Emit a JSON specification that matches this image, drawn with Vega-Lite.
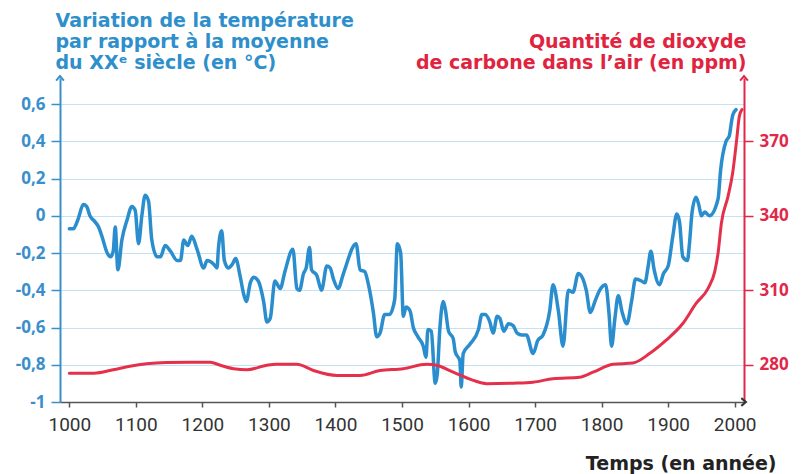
{
  "$schema": "https://vega.github.io/schema/vega-lite/v6.json",
  "width": 684,
  "height": 324,
  "autosize": {"type": "none"},
  "padding": {"left": 60, "top": 78, "right": 66, "bottom": 72},
  "background": "white",
  "config": {"view": {"stroke": null}, "font": "Open Sans"},
  "datasets": {
    "temp": [
      {"year": 1000, "t": -0.07}, {"year": 1006, "t": -0.07}, {"year": 1013, "t": -0.02}, {"year": 1021, "t": 0.06},
      {"year": 1026, "t": 0.05}, {"year": 1031, "t": 0.0}, {"year": 1038, "t": -0.03}, {"year": 1044, "t": -0.06},
      {"year": 1049, "t": -0.11}, {"year": 1057, "t": -0.2}, {"year": 1062, "t": -0.22}, {"year": 1066, "t": -0.19},
      {"year": 1069, "t": -0.06}, {"year": 1073, "t": -0.29}, {"year": 1079, "t": -0.13}, {"year": 1087, "t": -0.02},
      {"year": 1094, "t": 0.05}, {"year": 1099, "t": 0.03}, {"year": 1104, "t": -0.15}, {"year": 1109, "t": 0.0},
      {"year": 1114, "t": 0.11}, {"year": 1119, "t": 0.08}, {"year": 1124, "t": -0.13}, {"year": 1132, "t": -0.22},
      {"year": 1137, "t": -0.22}, {"year": 1144, "t": -0.16}, {"year": 1152, "t": -0.19}, {"year": 1162, "t": -0.24},
      {"year": 1167, "t": -0.24}, {"year": 1172, "t": -0.13}, {"year": 1178, "t": -0.16}, {"year": 1184, "t": -0.11},
      {"year": 1192, "t": -0.18}, {"year": 1202, "t": -0.28}, {"year": 1207, "t": -0.24}, {"year": 1217, "t": -0.26},
      {"year": 1222, "t": -0.28}, {"year": 1224, "t": -0.18}, {"year": 1229, "t": -0.08}, {"year": 1233, "t": -0.24},
      {"year": 1239, "t": -0.28}, {"year": 1245, "t": -0.26}, {"year": 1250, "t": -0.23}, {"year": 1257, "t": -0.33},
      {"year": 1262, "t": -0.42}, {"year": 1266, "t": -0.46}, {"year": 1272, "t": -0.36}, {"year": 1277, "t": -0.33},
      {"year": 1284, "t": -0.35}, {"year": 1292, "t": -0.46}, {"year": 1297, "t": -0.57}, {"year": 1302, "t": -0.55},
      {"year": 1309, "t": -0.35}, {"year": 1317, "t": -0.39}, {"year": 1324, "t": -0.3}, {"year": 1336, "t": -0.18},
      {"year": 1342, "t": -0.39}, {"year": 1346, "t": -0.4}, {"year": 1352, "t": -0.31}, {"year": 1356, "t": -0.28},
      {"year": 1361, "t": -0.17}, {"year": 1364, "t": -0.29}, {"year": 1372, "t": -0.32}, {"year": 1379, "t": -0.4},
      {"year": 1387, "t": -0.27}, {"year": 1392, "t": -0.28}, {"year": 1397, "t": -0.34}, {"year": 1404, "t": -0.39},
      {"year": 1412, "t": -0.31}, {"year": 1431, "t": -0.15}, {"year": 1437, "t": -0.29}, {"year": 1444, "t": -0.3},
      {"year": 1449, "t": -0.36}, {"year": 1457, "t": -0.52}, {"year": 1462, "t": -0.65}, {"year": 1467, "t": -0.63},
      {"year": 1474, "t": -0.53}, {"year": 1481, "t": -0.53}, {"year": 1489, "t": -0.45}, {"year": 1493, "t": -0.15},
      {"year": 1498, "t": -0.2}, {"year": 1502, "t": -0.54}, {"year": 1506, "t": -0.49}, {"year": 1512, "t": -0.51},
      {"year": 1517, "t": -0.6}, {"year": 1524, "t": -0.65}, {"year": 1532, "t": -0.7}, {"year": 1536, "t": -0.76},
      {"year": 1539, "t": -0.61}, {"year": 1544, "t": -0.62}, {"year": 1550, "t": -0.9}, {"year": 1553, "t": -0.85},
      {"year": 1557, "t": -0.6}, {"year": 1562, "t": -0.46}, {"year": 1565, "t": -0.5}, {"year": 1570, "t": -0.62},
      {"year": 1577, "t": -0.66}, {"year": 1580, "t": -0.73}, {"year": 1587, "t": -0.78}, {"year": 1589, "t": -0.92},
      {"year": 1592, "t": -0.74}, {"year": 1602, "t": -0.69}, {"year": 1615, "t": -0.61}, {"year": 1620, "t": -0.53},
      {"year": 1625, "t": -0.53}, {"year": 1632, "t": -0.57}, {"year": 1637, "t": -0.63}, {"year": 1643, "t": -0.54},
      {"year": 1647, "t": -0.55}, {"year": 1653, "t": -0.62}, {"year": 1660, "t": -0.58}, {"year": 1667, "t": -0.59},
      {"year": 1673, "t": -0.63}, {"year": 1680, "t": -0.64}, {"year": 1687, "t": -0.64}, {"year": 1697, "t": -0.74},
      {"year": 1704, "t": -0.67}, {"year": 1712, "t": -0.64}, {"year": 1722, "t": -0.51}, {"year": 1727, "t": -0.37},
      {"year": 1735, "t": -0.51}, {"year": 1742, "t": -0.7}, {"year": 1750, "t": -0.4}, {"year": 1757, "t": -0.41},
      {"year": 1765, "t": -0.31}, {"year": 1772, "t": -0.34}, {"year": 1777, "t": -0.4}, {"year": 1783, "t": -0.52},
      {"year": 1790, "t": -0.46}, {"year": 1797, "t": -0.4}, {"year": 1806, "t": -0.37}, {"year": 1811, "t": -0.52},
      {"year": 1815, "t": -0.7}, {"year": 1820, "t": -0.55}, {"year": 1825, "t": -0.43}, {"year": 1831, "t": -0.52},
      {"year": 1838, "t": -0.58}, {"year": 1845, "t": -0.46}, {"year": 1851, "t": -0.34}, {"year": 1860, "t": -0.35},
      {"year": 1865, "t": -0.36}, {"year": 1870, "t": -0.27}, {"year": 1874, "t": -0.19}, {"year": 1879, "t": -0.29},
      {"year": 1887, "t": -0.37}, {"year": 1893, "t": -0.31}, {"year": 1900, "t": -0.27}, {"year": 1907, "t": -0.11},
      {"year": 1913, "t": 0.01}, {"year": 1917, "t": -0.03}, {"year": 1922, "t": -0.22}, {"year": 1929, "t": -0.24},
      {"year": 1932, "t": -0.15}, {"year": 1936, "t": 0.02}, {"year": 1942, "t": 0.1}, {"year": 1946, "t": 0.06},
      {"year": 1950, "t": 0.0}, {"year": 1955, "t": 0.02}, {"year": 1962, "t": 0.0}, {"year": 1975, "t": 0.09},
      {"year": 1979, "t": 0.25}, {"year": 1987, "t": 0.4}, {"year": 1992, "t": 0.43}, {"year": 1995, "t": 0.5},
      {"year": 1997, "t": 0.54}, {"year": 2002, "t": 0.57}
    ],
    "co2": [
      {"year": 1000, "ppm": 276.6}, {"year": 1037, "ppm": 276.6}, {"year": 1066, "ppm": 278.0}, {"year": 1091, "ppm": 279.4},
      {"year": 1116, "ppm": 280.4}, {"year": 1146, "ppm": 280.9}, {"year": 1180, "ppm": 281.0}, {"year": 1212, "ppm": 281.0},
      {"year": 1227, "ppm": 279.8}, {"year": 1247, "ppm": 278.4}, {"year": 1267, "ppm": 278.0}, {"year": 1297, "ppm": 279.8},
      {"year": 1311, "ppm": 280.2}, {"year": 1342, "ppm": 280.2}, {"year": 1367, "ppm": 277.7}, {"year": 1402, "ppm": 275.7},
      {"year": 1437, "ppm": 275.7}, {"year": 1467, "ppm": 277.7}, {"year": 1502, "ppm": 278.4}, {"year": 1537, "ppm": 280.2},
      {"year": 1552, "ppm": 279.8}, {"year": 1577, "ppm": 277.0}, {"year": 1607, "ppm": 273.7}, {"year": 1627, "ppm": 272.4},
      {"year": 1667, "ppm": 272.6}, {"year": 1697, "ppm": 273.0}, {"year": 1727, "ppm": 274.4}, {"year": 1767, "ppm": 275.0},
      {"year": 1787, "ppm": 277.0}, {"year": 1817, "ppm": 280.2}, {"year": 1847, "ppm": 280.7}, {"year": 1872, "ppm": 284.5},
      {"year": 1897, "ppm": 289.9}, {"year": 1922, "ppm": 296.6}, {"year": 1942, "ppm": 304.7}, {"year": 1960, "ppm": 310.8},
      {"year": 1970, "ppm": 317.5}, {"year": 1975, "ppm": 324.9}, {"year": 1980, "ppm": 337.0}, {"year": 1990, "ppm": 347.8},
      {"year": 1997, "ppm": 357.3}, {"year": 2003, "ppm": 370.7}, {"year": 2007, "ppm": 380.1}, {"year": 2011, "ppm": 382.8}
    ]
  },
  "layer": [
    {
      "data": {"name": "temp"},
      "mark": {"type": "line", "color": "#2a8dcd", "strokeWidth": 3.5, "interpolate": "monotone", "strokeCap": "round", "strokeJoin": "round"},
      "encoding": {
        "x": {
          "field": "year", "type": "quantitative",
          "scale": {"domain": [986, 2014], "nice": false, "zero": false},
          "axis": {
            "values": [1000, 1100, 1200, 1300, 1400, 1500, 1600, 1700, 1800, 1900, 2000],
            "format": "d",
            "grid": false,
            "domainColor": "#555555", "domainWidth": 1.5,
            "tickColor": "#555555", "tickSize": 5, "tickWidth": 1.5,
            "labelFont": "Roboto", "labelFontSize": 19, "labelColor": "#333333", "labelPadding": 8,
            "title": "Temps (en année)",
            "titleFont": "DejaVu Sans", "titleFontSize": 19, "titleFontWeight": "bold", "titleColor": "#222222",
            "titleAngle": 0, "titleAlign": "right", "titleBaseline": "alphabetic",
            "titleX": 716, "titleY": 67
          }
        },
        "y": {
          "field": "t", "type": "quantitative",
          "scale": {"domain": [-1, 0.74], "nice": false, "zero": false},
          "axis": {
            "values": [-1, -0.8, -0.6, -0.4, -0.2, 0, 0.2, 0.4, 0.6],
            "labelExpr": "datum.value == 0 ? '0' : datum.value == -1 ? '-1' : replace(replace(format(datum.value, '.1f'), '.', ','), '\u2212', '-')",
            "grid": true, "gridColor": "#c3e2f6", "gridWidth": 1.2,
            "domainColor": "#3a8fcb", "domainWidth": 2,
            "tickColor": "#3a8fcb", "tickSize": 9, "tickWidth": 1.5,
            "labelFont": "Open Sans", "labelFontSize": 17, "labelFontWeight": "bold", "labelColor": "#3a8fcb", "labelPadding": 6,
            "title": ["Variation de la température", "par rapport à la moyenne", "du XXᵉ siècle (en °C)"],
            "titleFont": "DejaVu Sans", "titleFontSize": 19, "titleFontWeight": "bold", "titleColor": "#2e8fcb",
            "titleAngle": 0, "titleAlign": "left", "titleBaseline": "alphabetic", "titleLineHeight": 21,
            "titleX": -5, "titleY": -52
          }
        }
      }
    },
    {
      "data": {"name": "co2"},
      "mark": {"type": "line", "color": "#e4304b", "strokeWidth": 3, "interpolate": "monotone", "strokeCap": "round"},
      "encoding": {
        "x": {"field": "year", "type": "quantitative", "scale": {"domain": [986, 2014], "nice": false, "zero": false}},
        "y": {
          "field": "ppm", "type": "quantitative",
          "scale": {"domain": [265, 395.5], "nice": false, "zero": false},
          "axis": {
            "orient": "right",
            "values": [280, 310, 340, 370],
            "grid": false,
            "domainColor": "#e0284a", "domainWidth": 2,
            "tickColor": "#e0284a", "tickSize": 9, "tickWidth": 1.5,
            "labelFont": "Open Sans", "labelFontSize": 17, "labelFontWeight": "bold", "labelColor": "#e0284a", "labelPadding": 6,
            "title": ["Quantité de dioxyde", "de carbone dans l’air (en ppm)"],
            "titleFont": "DejaVu Sans", "titleFontSize": 19, "titleFontWeight": "bold", "titleColor": "#e0243f",
            "titleAngle": 0, "titleAlign": "right", "titleBaseline": "alphabetic", "titleLineHeight": 21,
            "titleX": 2, "titleY": -31
          }
        }
      }
    },
    {
      "data": {"values": [{}]},
      "mark": {"type": "point", "shape": "M-1,0.7L0,-0.5L1,0.7", "filled": false, "stroke": "#3a8fcb", "strokeWidth": 2, "size": 60, "opacity": 1},
      "encoding": {
        "x": {"datum": 986, "type": "quantitative", "scale": {"domain": [986, 2014], "nice": false, "zero": false}},
        "y": {"datum": 0.74, "type": "quantitative", "scale": {"domain": [-1, 0.74], "nice": false, "zero": false}, "axis": null}
      }
    },
    {
      "data": {"values": [{}]},
      "mark": {"type": "point", "shape": "M-1,0.7L0,-0.5L1,0.7", "filled": false, "stroke": "#e0284a", "strokeWidth": 2, "size": 60, "opacity": 1},
      "encoding": {
        "x": {"datum": 2014, "type": "quantitative", "scale": {"domain": [986, 2014], "nice": false, "zero": false}},
        "y": {"datum": 395.5, "type": "quantitative", "scale": {"domain": [265, 395.5], "nice": false, "zero": false}, "axis": null}
      }
    },
    {
      "data": {"values": [{}]},
      "mark": {"type": "point", "shape": "M-0.7,-1L0.5,0L-0.7,1", "filled": false, "stroke": "#333333", "strokeWidth": 2, "size": 60, "opacity": 1},
      "encoding": {
        "x": {"datum": 2014, "type": "quantitative", "scale": {"domain": [986, 2014], "nice": false, "zero": false}},
        "y": {"datum": -1, "type": "quantitative", "scale": {"domain": [-1, 0.74], "nice": false, "zero": false}, "axis": null}
      }
    }
  ],
  "resolve": {"scale": {"y": "independent"}}
}
